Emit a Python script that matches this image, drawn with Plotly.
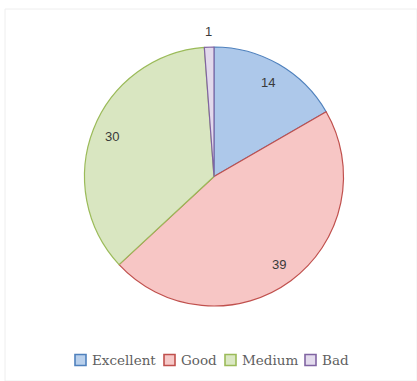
import math
import plotly.graph_objects as go

# Rating distribution
categories = ["Excellent", "Good", "Medium", "Bad"]
counts = [14, 39, 30, 1]

fill_colors = ["#adc8ea", "#f7c6c5", "#d9e6c1", "#e2d9ec"]
line_colors = ["#4f81bd", "#c0504d", "#9bbb59", "#8064a2"]
key_fills = ["#b9d0ec", "#f6c9c8", "#dbe8c4", "#e3dbed"]

W, H = 417, 381
CX, CY, R = 214, 176.5, 129.5          # pie centre / radius in pixels
label_radius = [0.84, 0.84, 0.85, 1.12]  # radial position of each value label

fig = go.Figure(
    go.Pie(
        labels=categories,
        values=counts,
        sort=False,
        direction="clockwise",
        rotation=0,
        textinfo="none",
        marker=dict(colors=fill_colors, line=dict(color=line_colors, width=1.2)),
        domain=dict(x=[(CX - R) / W, (CX + R) / W], y=[1 - (CY + R) / H, 1 - (CY - R) / H]),
        hoverinfo="label+value",
        showlegend=False,
    )
)

# Value labels placed at each slice's mid-angle
annotations = []
total = sum(counts)
start = 0.0
for val, rf in zip(counts, label_radius):
    mid = (start + val / 2) / total * 2 * math.pi
    start += val
    px = CX + rf * R * math.sin(mid)
    py = CY - rf * R * math.cos(mid)
    annotations.append(
        dict(
            x=px / W, y=1 - py / H, xref="paper", yref="paper",
            text=str(val), showarrow=False,
            font=dict(family="Liberation Sans, Arial, sans-serif", size=13, color="#3a3a3a"),
            xanchor="center", yanchor="middle",
        )
    )

# Legend keys along the bottom
key_x = [74, 163, 224, 304]
key_y = 360
shapes = [
    dict(
        type="rect", xref="paper", yref="paper",
        x0=5 / W, x1=1.0, y0=0.0, y1=1 - 9 / H,
        line=dict(color="#eeeeee", width=1), fillcolor="rgba(0,0,0,0)", layer="below",
    )
]
for kx, name, lc, fc in zip(key_x, categories, line_colors, key_fills):
    shapes.append(
        dict(
            type="rect", xref="paper", yref="paper",
            x0=(kx + 1) / W, x1=(kx + 12) / W,
            y0=1 - (key_y + 5.5) / H, y1=1 - (key_y - 5.5) / H,
            line=dict(color=lc, width=1.6), fillcolor=fc,
        )
    )
    annotations.append(
        dict(
            x=(kx + 16) / W, y=1 - key_y / H, xref="paper", yref="paper",
            text=name, showarrow=False, xanchor="left", yanchor="middle",
            font=dict(family="DejaVu Serif, Liberation Serif, serif", size=13.5, color="#5f5f5f"),
        )
    )

fig.update_layout(
    width=W,
    height=H,
    margin=dict(l=0, r=0, t=0, b=0),
    paper_bgcolor="white",
    plot_bgcolor="white",
    showlegend=False,
    annotations=annotations,
    shapes=shapes,
)

fig.write_html("out.html")
